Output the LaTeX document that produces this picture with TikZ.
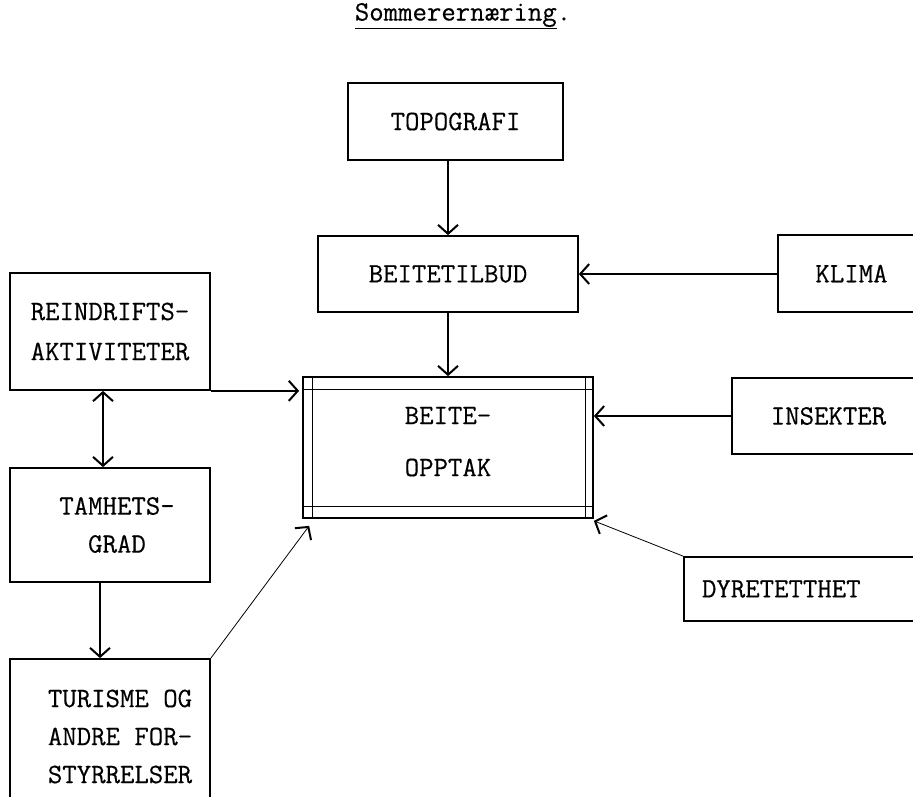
\documentclass[tikz,border=0pt]{standalone}
\usepackage{fontspec}
\setmonofont{Latin Modern Mono}[FakeBold=0.4]
\usetikzlibrary{arrows.meta}
\begin{document}
\begin{tikzpicture}[x=1pt,y=-1pt,
  box/.style={draw, line width=1.7pt, rectangle, inner sep=0pt, align=center,
    font=\ttfamily\fontsize{28}{38}\selectfont},
  arr/.style={line width=1.5pt, -{Straight Barb[length=9pt,width=20pt,line width=2pt]}},
  dblarr/.style={line width=1.5pt, {Straight Barb[length=9pt,width=20pt,line width=2pt]}-{Straight Barb[length=9pt,width=20pt,line width=2pt]}},
  thinarr/.style={line width=0.8pt, -{Straight Barb[length=9pt,width=20pt,line width=2pt]}},
  inner/.style={line width=1pt}]
\useasboundingbox (0,0) rectangle (913,796);
\clip (0,0) rectangle (913,796);

\node[font=\ttfamily\fontsize{28}{34}\selectfont, inner sep=0pt] (title) at (463,16) {\underline{Sommerernæring}.};

\node[box, minimum width=215pt, minimum height=77pt] (topo) at (455.5,121.5) {TOPOGRAFI};
\node[box, minimum width=260pt, minimum height=76pt] (beit) at (448,274) {BEITETILBUD};
\node[box, minimum width=147pt, minimum height=77pt] (klima) at (851.5,273.5) {KLIMA};
\node[box, minimum width=200pt, minimum height=117pt, font=\ttfamily\fontsize{28}{40}\selectfont] (rein) at (110,331.5) {REINDRIFTS-\\AKTIVITETER};
\node[box, minimum width=200pt, minimum height=114pt] (tam) at (110,525) {\hspace*{14pt}TAMHETS-\\\hspace*{14pt}GRAD};
\node[box, minimum width=200pt, minimum height=155pt] (tur) at (110,736.5) {\hspace*{20pt}TURISME OG\\\hspace*{20pt}ANDRE FOR-\\\hspace*{20pt}STYRRELSER};
\node[box, minimum width=290pt, minimum height=141pt, font=\ttfamily\fontsize{28}{52}\selectfont] (opp) at (448,447.5) {BEITE-\\OPPTAK\\[-40pt]\mbox{}};
\node[box, minimum width=193pt, minimum height=76pt] (ins) at (828.5,416) {INSEKTER};
\node[box, minimum width=250pt, minimum height=64pt, text width=214pt, align=left, inner xsep=18pt] (dyr) at (809,589) {DYRETETTHET};

% inner frame of BEITE-OPPTAK
\draw[inner] ([yshift=-13pt]opp.north west) -- ([yshift=-13pt]opp.north east);
\draw[inner] ([yshift=12pt]opp.south west) -- ([yshift=12pt]opp.south east);
\draw[inner] ([xshift=10pt]opp.north west) -- ([xshift=10pt]opp.south west);
\draw[inner] ([xshift=-8pt]opp.north east) -- ([xshift=-8pt]opp.south east);

% connectors
\draw[arr] (beit.north |- topo.south) -- (beit.north);
\draw[arr] (klima.west |- beit.east) -- (beit.east);
\draw[arr] (beit.south) -- (opp.north);
\draw[arr] (rein.south east) -- ([xshift=-3pt]rein.south east -| opp.west);
\draw[dblarr] ([xshift=-7pt]rein.south) -- ([xshift=-7pt]tam.north);
\draw[arr] ([xshift=-10pt]tam.south) -- ([xshift=-10pt]tur.north);
\draw[thinarr] (tur.north east) -- ([xshift=7pt,yshift=-7pt]opp.south west);
\draw[arr] (ins.west) -- (ins.west -| opp.east);
\draw[thinarr] (dyr.north west) -- ([yshift=-2pt]opp.south east);
\end{tikzpicture}
\end{document}
